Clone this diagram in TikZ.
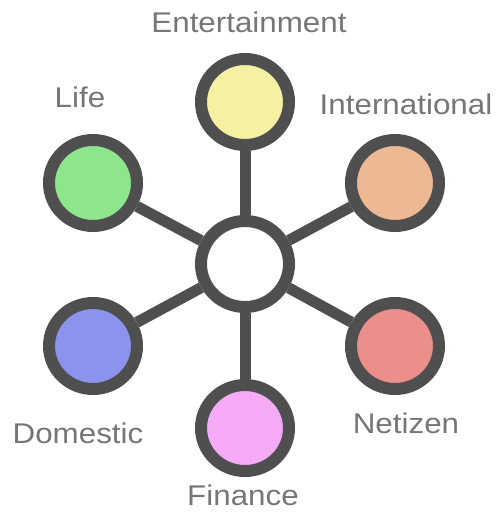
\documentclass[tikz,border=0pt]{standalone}
\usepackage{fontspec}
\usetikzlibrary{shapes.geometric}
\newfontfamily\tagfont{Liberation Sans}[FakeStretch=1.1]
\definecolor{ringgray}{HTML}{4F4F4F}
\definecolor{labelgray}{HTML}{767676}
\definecolor{entfill}{HTML}{F4F1A3}
\definecolor{intlfill}{HTML}{EDB994}
\definecolor{lifefill}{HTML}{8DE68B}
\definecolor{domfill}{HTML}{8B93EC}
\definecolor{netfill}{HTML}{EB8F8B}
\definecolor{finfill}{HTML}{F4AAF5}
\begin{document}
\begin{tikzpicture}[x=1pt,y=-1pt,
    topic/.style={ellipse,draw=ringgray,line width=12pt,minimum width=88pt,minimum height=86pt,inner sep=0pt},
    spoke/.style={draw=ringgray,line width=11pt},
    tag/.style={text=labelgray,font=\tagfont\fontsize{28.5}{30}\selectfont,anchor=base,inner sep=0pt}]
    \useasboundingbox (0,0) rectangle (496,521);
    % hub and the six topics
    \node[topic,fill=white] (hub) at (245,264) {};
    \foreach \n/\x/\y/\c in {ent/245/102/entfill, intl/395/183/intlfill, life/93/183/lifefill,
                             dom/93/346/domfill, net/395/346/netfill, fin/245/428/finfill} {
      \node[topic,fill=\c] (\n) at (\x,\y) {};
      \draw[spoke] (hub) -- (\n);
    }
    % labels
    \node[tag] (entlabel) at (249,33) {Entertainment};
    \node[tag] (intllabel) at (406,115) {International};
    \node[tag] (lifelabel) at (80,108) {Life};
    \node[tag] (domlabel) at (78,443) {Domestic};
    \node[tag] (netlabel) at (406,433) {Netizen};
    \node[tag] (finlabel) at (243,505) {Finance};
\end{tikzpicture}
\end{document}
